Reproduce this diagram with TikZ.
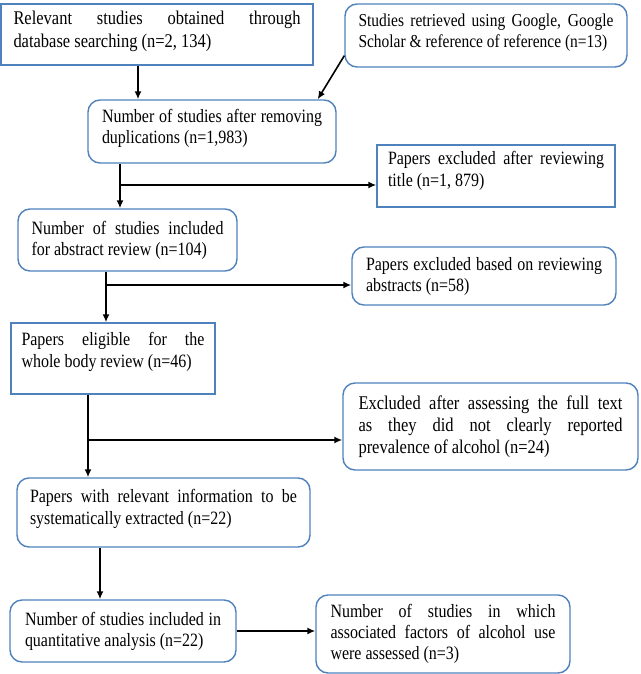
\documentclass[tikz,border=0pt]{standalone}
\usepackage{fontspec}
\setmainfont[FakeStretch=0.85]{Liberation Serif}
\usetikzlibrary{arrows.meta}
\definecolor{boxblue}{RGB}{79,129,189}
\tolerance=9999
\hbadness=10000
% extra room under the last line of a box
\newcommand{\padbot}[1]{\rule[-#1]{0pt}{#1}}

\begin{document}
\begin{tikzpicture}[x=1pt,y=-1pt,
        box/.style={draw=boxblue, line width=1.4pt, inner sep=0pt, align=justify,
            font=\fontsize{18.8}{21}\selectfont},
        rbox/.style={box, rounded corners=12pt},
        arr/.style={-{Latex[length=8pt,width=7pt]}, line width=1.6pt}]
    % Marco
    \useasboundingbox (0,0) rectangle (640,674);

    % Cajas
    \node[box, minimum width=312pt, minimum height=61pt, text width=287pt, font=\fontsize{19.4}{23}\selectfont] (b1) at (157,34.5)
        {Relevant studies obtained through\linebreak database searching (n=2, 134)\padbot{10pt}};
    \node[rbox, minimum width=282pt, minimum height=63pt, text width=255pt, font=\fontsize{18.2}{21}\selectfont] (b2) at (486,35.5)
        {Studies retrieved using Google, Google\linebreak Scholar \& reference of reference (n=13)\padbot{10pt}};
    \node[rbox, minimum width=248pt, minimum height=63pt, text width=220pt] (b3) at (212,131.5)
        {Number of studies after removing\linebreak duplications (n=1,983)\padbot{10pt}};
    \node[box, minimum width=238pt, minimum height=62pt, text width=216pt, font=\fontsize{18.8}{22}\selectfont] (b4) at (496,176)
        {Papers excluded after reviewing\linebreak title (n=1, 879)\padbot{14pt}};
    \node[rbox, minimum width=219pt, minimum height=62pt, text width=192pt] (b5) at (127.5,240)
        {Number of studies included\linebreak for abstract review (n=104)};
    \node[rbox, minimum width=264pt, minimum height=58pt, text width=236pt] (b6) at (484,276)
        {Papers excluded based on reviewing\linebreak abstracts (n=58)};
    \node[box, minimum width=204pt, minimum height=71pt, text width=183pt, font=\fontsize{18.8}{22}\selectfont] (b7) at (113,358.5)
        {Papers eligible for the\linebreak whole body review (n=46)\padbot{18pt}};
    \node[rbox, minimum width=295pt, minimum height=87pt, text width=264pt, font=\fontsize{19.4}{22}\selectfont] (b8) at (490.5,426.5)
        {Excluded after assessing the full text\linebreak as they did not clearly reported\linebreak prevalence of alcohol (n=24)};
    \node[rbox, minimum width=293pt, minimum height=69pt, text width=267pt, font=\fontsize{18.8}{22}\selectfont] (b9) at (163.5,512.5)
        {Papers with relevant information to be\linebreak systematically extracted (n=22)\padbot{11pt}};
    \node[rbox, minimum width=226pt, minimum height=62pt, text width=196pt] (b10) at (123,631)
        {Number of studies included in\linebreak quantitative analysis (n=22)};
    \node[rbox, minimum width=254pt, minimum height=78pt, text width=225pt] (b11) at (443,634)
        {Number of studies in which\linebreak associated factors of alcohol use\linebreak were assessed (n=3)};

    % Puntos de quiebre
    \coordinate (t1) at (138,80);
    \coordinate (s1) at (120,185);
    \coordinate (s2) at (106,285);
    \coordinate (s3) at (88,440);
    \coordinate (s4) at (100,575);

    % Flechas
    \draw[arr] (t1 |- b1.south) -- (t1 |- b3.north);
    \draw[arr] ([yshift=12pt]b2.south west) -- ([xshift=-19pt]b3.north east);
    \draw[arr] (s1 |- b3.south) -- (s1 |- b5.north);
    \draw[arr] (s1) -- (s1 -| b4.west);
    \draw[arr] (s2 |- b5.south) -- (s2 |- b7.north);
    \draw[arr] (s2) -- (s2 -| b6.west);
    \draw[arr] (s3 |- b7.south) -- (s3 |- b9.north);
    \draw[arr] (s3) -- (s3 -| b8.west);
    \draw[arr] (s4 |- b9.south) -- (s4 |- b10.north);
    \draw[arr] (b10.east) -- (b10.east -| b11.west);
\end{tikzpicture}
\end{document}
